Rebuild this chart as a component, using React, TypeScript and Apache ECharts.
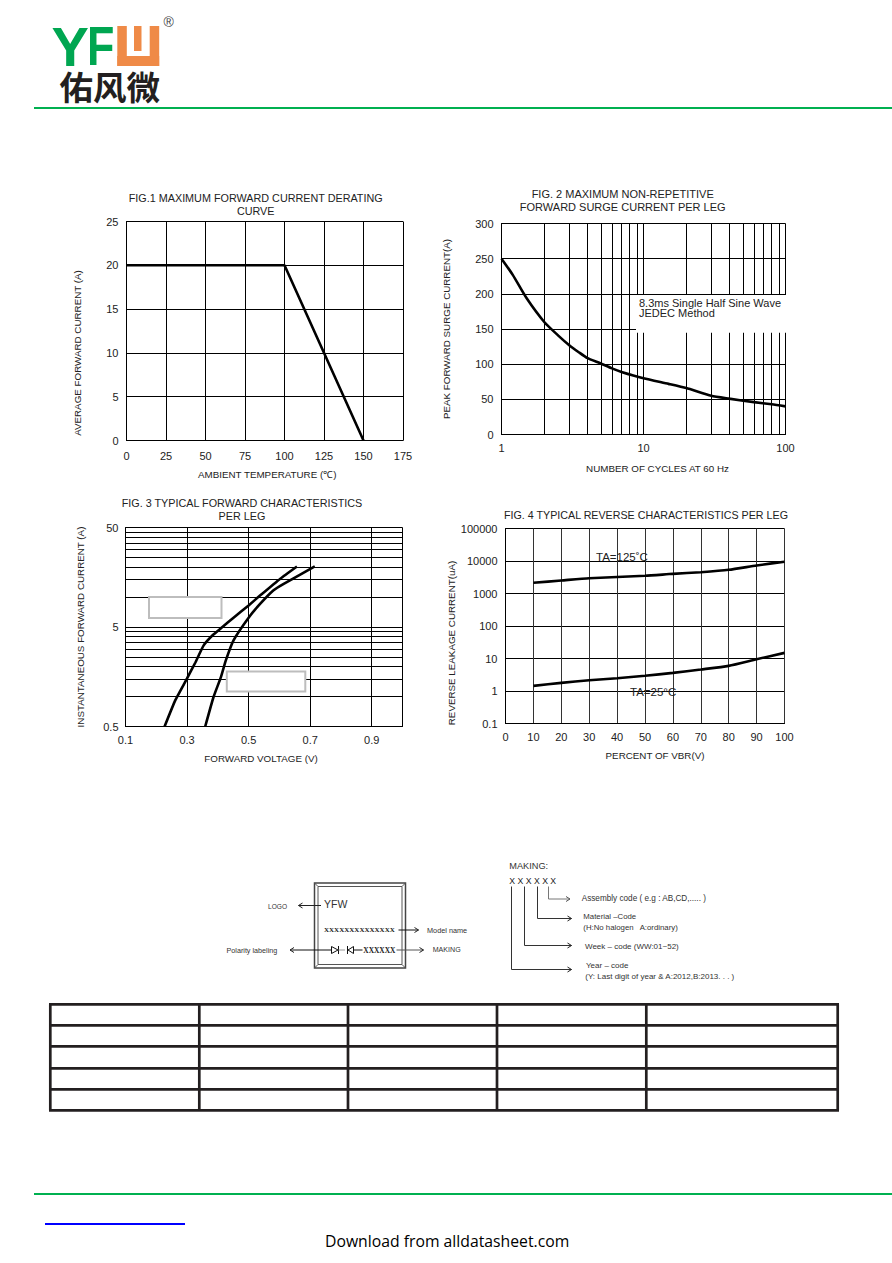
import React, { useEffect, useRef } from "react";
import * as echarts from "echarts";

// ---- data ----
const fig1Temp = [0, 100, 150];
const fig1Current = [20, 20, 0];

const fig2Cycles = [1, 1.2, 1.5, 2, 2.5, 3, 3.5, 4, 5, 6, 7, 10, 15, 20, 30, 40, 60, 80, 100];
const fig2Surge = [250, 227, 194, 160, 141, 127, 117, 109, 101, 94, 89, 80, 72, 66, 55, 51, 46, 43, 40];
const fig2MinorX = [2, 3, 4, 5, 6, 7, 8, 9, 20, 30, 40, 50, 60, 70, 80, 90];

const fig3VoltsA = [0.227, 0.262, 0.3, 0.327, 0.354, 0.383, 0.415, 0.451, 0.5, 0.538, 0.603, 0.657];
const fig3AmpsA = [0.5, 0.92, 1.52, 2.2, 3.27, 4.13, 5, 6.2, 8.24, 10.4, 15.3, 20.3];
const fig3VoltsB = [0.359, 0.386, 0.41, 0.426, 0.451, 0.5, 0.538, 0.581, 0.614, 0.715];
const fig3AmpsB = [0.5, 0.99, 1.57, 2.31, 3.67, 6.2, 8.57, 11.7, 13.6, 20.3];
const fig3GridY = [0.5, 1, 1.5, 2, 2.5, 3, 3.5, 4, 4.5, 5, 10, 15, 20, 25, 30, 35, 40, 45, 50];
const fig3LabelY = [0.5, 5, 50];
const fig3GridX = [0.3, 0.5, 0.7, 0.9, 1];

const fig4Percent = [10, 20, 30, 50, 60, 70, 80, 90, 100];
const fig4Hot = [2130, 2510, 2960, 3500, 4030, 4530, 5350, 7280, 9500];
const fig4PercentCold = [10, 20, 30, 40, 50, 60, 70, 80, 90, 100];
const fig4Cold = [1.44, 1.78, 2.15, 2.48, 2.93, 3.62, 4.59, 5.94, 9.5, 14.9];

const tableRows = [1004.3, 1025.3, 1046.3, 1068.3, 1089.3, 1110.3];
const tableCols = [50.3, 199.3, 348, 497, 646.3, 837.7];

const pair = (xs: number[], ys: number[]) => xs.map((x, i) => [x, ys[i]]);

const FONT = "Liberation Sans";
const TXT = "#222";
const GREEN = "#00a651";
const RULE = "#00b050";
const ORANGE = "#ef8a47";

const axisBase = {
  axisTick: { show: false },
  axisLine: { show: true, onZero: false, lineStyle: { color: "#000", width: 1 } },
  axisLabel: { color: TXT, fontFamily: FONT, fontSize: 11, margin: 8 },
  splitLine: { show: true, lineStyle: { color: "#000", width: 1 } },
  nameLocation: "middle" as const,
  nameTextStyle: { color: TXT, fontFamily: FONT, fontSize: 9.8 },
};

const curve = (i: number, data: number[][], smooth: number | boolean = 0.3, extra: object = {}) => ({
  type: "line",
  xAxisIndex: i,
  yAxisIndex: i,
  data,
  smooth,
  showSymbol: false,
  lineStyle: { color: "#000", width: 2.6 },
  ...extra,
});

const title = (text: string, left: number, top: number, fontSize = 10.8) => ({
  text,
  left,
  top,
  padding: 0,
  textAlign: "center",
  textStyle: { color: TXT, fontFamily: FONT, fontSize, fontWeight: "normal", lineHeight: 12.8 },
});

function seg(x1: number, y1: number, x2: number, y2: number, lineWidth = 1, stroke = "#222") {
  return { type: "line", z: 100, shape: { x1, y1, x2, y2 }, style: { stroke, lineWidth } };
}
function arrow(x: number, y: number, dir: number, stroke = "#222") {
  return {
    type: "polyline",
    z: 100,
    shape: { points: [[x - dir * 4, y - 2.5], [x, y], [x - dir * 4, y + 2.5]] },
    style: { stroke, lineWidth: 1, fill: "none" },
  };
}
function label(text: string, x: number, y: number, fontSize = 6.6, extra: object = {}) {
  return {
    type: "text",
    z: 101,
    x,
    y,
    style: {
      text,
      fontFamily: FONT,
      fontSize,
      fill: "#333",
      textVerticalAlign: "middle",
      verticalAlign: "middle",
      ...extra,
    },
  };
}
function box(x: number, y: number, width: number, height: number, stroke = "none", lineWidth = 0) {
  return { type: "rect", z: 100, shape: { x, y, width, height }, style: { fill: "#fff", stroke, lineWidth } };
}

function buildGraphics() {
  const g: any[] = [];
  // logo
  g.push({
    type: "text", z: 101, x: 51.5, y: 46,
    style: { text: "Y", fontFamily: FONT, fontWeight: "bold", fontSize: 56, fill: GREEN, verticalAlign: "middle" },
  });
  g.push({
    type: "text", z: 101, x: 87, y: 46, scaleX: 0.8,
    style: { text: "F", fontFamily: FONT, fontWeight: "bold", fontSize: 56, fill: GREEN, verticalAlign: "middle" },
  });
  const uRects = [
    [117.3, 26, 9.5, 40],
    [149.7, 26, 9.5, 40],
    [117.3, 56, 41.9, 10],
    [134, 26, 7.5, 25],
  ];
  uRects.forEach(([x, y, width, height]) =>
    g.push({ type: "rect", z: 100, shape: { x, y, width, height, r: 0 }, style: { fill: ORANGE } })
  );
  g.push(label("®", 163.5, 21.5, 14, { fill: "#444" }));
  g.push({
    type: "text", z: 101, x: 59.5, y: 85,
    style: {
      text: "佑风微", fontFamily: "Noto Sans CJK SC", fontWeight: "bold", fontSize: 33.5, fill: "#231f20",
      verticalAlign: "middle",
    },
  });
  // rules
  g.push(seg(34, 108, 892, 108, 2, RULE));
  g.push(seg(34, 1194, 892, 1194, 2, RULE));
  g.push(seg(45, 1224, 185, 1224, 2, "#0000ff"));
  g.push({
    type: "text", z: 101, x: 325, y: 1241,
    style: { text: "Download from alldatasheet.com", fontFamily: "Open Sans", fontSize: 15.75, fill: "#000", verticalAlign: "middle" },
  });

  // fig 2 note
  g.push(box(636, 295, 152, 37.7));
  g.push(label("8.3ms Single Half Sine Wave", 639, 302.7, 11, { fill: "#222" }));
  g.push(label("JEDEC Method", 639, 312.7, 11, { fill: "#222" }));

  // fig 3 blank boxes
  g.push(box(149, 597, 72.5, 21, "#bdbdbd", 2));
  g.push(box(226.8, 671.5, 78.5, 20, "#bdbdbd", 2));

  // fig 4 notes
  g.push(label("TA=125˚C", 596, 556.6, 11.5, { fill: "#222" }));
  g.push(label("TA=25°C", 630, 691.7, 11.5, { fill: "#222" }));

  // package drawing
  g.push({ type: "rect", z: 100, shape: { x: 314.5, y: 883, width: 91, height: 85 }, style: { fill: "none", stroke: "#444", lineWidth: 1.5 } });
  g.push({ type: "rect", z: 100, shape: { x: 318, y: 886.5, width: 84, height: 78 }, style: { fill: "none", stroke: "#555", lineWidth: 1 } });
  g.push(seg(314.5, 883, 318, 886.5, 1, "#555"), seg(405.5, 883, 402, 886.5, 1, "#555"));
  g.push(seg(314.5, 968, 318, 964.5, 1, "#555"), seg(405.5, 968, 402, 964.5, 1, "#555"));
  g.push(label("YFW", 324, 903.5, 10.5, { fill: "#333" }));
  g.push(label("XXXXXXXXXXXXXX", 324, 930, 7, { fontFamily: "Liberation Serif", fontWeight: "bold", fill: "#222" }));
  g.push(label("XXXXXX", 363.3, 950, 7.4, { fontFamily: "Liberation Serif", fontWeight: "bold", fill: "#222" }));
  g.push(label("LOGO", 268, 906.7, 6.6));
  g.push(seg(298.5, 905.5, 321, 905.5), arrow(298.5, 905.5, -1));
  g.push(label("Model name", 427, 930, 7.3));
  g.push(seg(398.5, 930, 418.5, 930, 1, "#111"), arrow(418.5, 930, 1));
  g.push(label("Polarity labeling", 226.5, 950, 7.2));
  g.push(seg(290, 950, 331, 950, 1, "#111"), arrow(290, 950, -1));
  g.push(label("MAKING", 432.7, 950, 7.1));
  g.push(seg(396.5, 950, 423.5, 950, 1, "#555"), arrow(423.5, 950, 1));
  g.push({ type: "polygon", z: 100, shape: { points: [[331.5, 946.5], [338, 950], [331.5, 953.5]] }, style: { fill: "#fff", stroke: "#111", lineWidth: 1 } });
  g.push(seg(338.5, 946, 338.5, 954, 1, "#111"), seg(338.5, 950, 345, 950, 1, "#999"));
  g.push(seg(347.5, 946, 347.5, 954, 1, "#111"));
  g.push({ type: "polygon", z: 100, shape: { points: [[353.5, 946.5], [348, 950], [353.5, 953.5]] }, style: { fill: "#fff", stroke: "#111", lineWidth: 1 } });
  g.push(seg(353.5, 950, 362.5, 950, 1, "#111"));

  // marking legend
  g.push(label("MAKING:", 509.3, 865.7, 9.2));
  g.push(label("X X X X X X", 509.3, 880.7, 8.7, { fill: "#222" }));
  g.push(seg(548.5, 886.5, 548.5, 899, 1, "#777"), seg(548.5, 899, 570, 899, 1, "#777"), arrow(570, 899, 1, "#555"));
  g.push(seg(537.5, 886.5, 537.5, 918.5, 1, "#333"), seg(537.5, 918.5, 571.5, 918.5, 1, "#333"), arrow(571.5, 918.5, 1));
  g.push(seg(524.5, 886.5, 524.5, 945.5, 1, "#333"), seg(524.5, 945.5, 571.5, 945.5, 1, "#333"), arrow(571.5, 945.5, 1));
  g.push(seg(511.5, 886.5, 511.5, 969.5, 1, "#333"), seg(511.5, 969.5, 571.5, 969.5, 1, "#333"), arrow(571.5, 969.5, 1));
  g.push(label("Assembly code ( e.g : AB,CD,..... )", 581.7, 898.3, 8.2));
  g.push(label("Material –Code", 583.3, 916, 7.8));
  g.push(label("(H:No halogen   A:ordinary)", 583.3, 927.3, 7.8));
  g.push(label("Week – code (WW:01~52)", 585, 946, 8));
  g.push(label("Year – code", 586, 965.7, 8));
  g.push(label("(Y: Last digit of year & A:2012,B:2013. . . )", 585.3, 976.7, 8));

  // table
  tableRows.forEach((y) => g.push(seg(tableCols[0] - 1.3, y, tableCols[5] + 1.3, y, 2.7, "#231f20")));
  tableCols.forEach((x) => g.push(seg(x, tableRows[0], x, tableRows[5], 2.7, "#231f20")));
  return g;
}

function buildOption() {
  const fig2Marks = {
    silent: true,
    symbol: "none",
    animation: false,
    label: { show: false },
    lineStyle: { color: "#000", width: 1, type: "solid" },
    data: fig2MinorX.map((v) => ({ xAxis: v })),
  };
  const fig3Marks = {
    silent: true,
    symbol: "none",
    animation: false,
    lineStyle: { color: "#000", width: 1, type: "solid" },
    data: [
      ...fig3GridY.map((v) => ({
        yAxis: v,
        label: {
          show: fig3LabelY.includes(v),
          position: "start",
          formatter: String(v),
          color: TXT,
          fontFamily: FONT,
          fontSize: 11,
          distance: 7,
        },
      })),
      ...fig3GridX.map((v) => ({ xAxis: v, label: { show: false } })),
    ],
  };
  return {
    animation: false,
    backgroundColor: "#fff",
    title: [
      title("FIG.1 MAXIMUM FORWARD CURRENT DERATING\nCURVE", 255.7, 192),
      title("FIG. 2 MAXIMUM NON-REPETITIVE\nFORWARD SURGE CURRENT PER LEG", 622.7, 188, 11),
      title("FIG. 3 TYPICAL FORWARD CHARACTERISTICS\nPER LEG", 242, 496.5, 10.8),
      title("FIG. 4 TYPICAL REVERSE CHARACTERISTICS PER LEG", 646, 509, 10.7),
    ],
    grid: [
      { left: 126.5, top: 221.5, width: 276.5, height: 219 },
      { left: 501.5, top: 223.5, width: 284, height: 211 },
      { left: 125.5, top: 527.5, width: 277, height: 199 },
      { left: 505.5, top: 528.5, width: 279, height: 195 },
    ],
    xAxis: [
      {
        ...axisBase, gridIndex: 0, type: "value", min: 0, max: 175, interval: 25,
        axisLabel: { ...axisBase.axisLabel, margin: 10 },
        name: "AMBIENT TEMPERATURE (℃)", nameGap: 29,
        nameTextStyle: { ...axisBase.nameTextStyle, padding: [0, 0, 0, 5] },
      },
      {
        ...axisBase, gridIndex: 1, type: "log", logBase: 10, min: 1, max: 100,
        name: "NUMBER OF CYCLES AT 60 Hz", nameGap: 29,
        nameTextStyle: { ...axisBase.nameTextStyle, padding: [0, 0, 0, 28] },
      },
      {
        ...axisBase, gridIndex: 2, type: "value", min: 0.1, max: 1, interval: 0.1,
        name: "FORWARD VOLTAGE (V)", nameGap: 27,
        splitLine: { show: false },
        axisLabel: {
          ...axisBase.axisLabel,
          formatter: (v: number) => (Math.round(v * 10) % 2 === 1 && v < 0.95 ? v.toFixed(1) : ""),
        },
        nameTextStyle: { ...axisBase.nameTextStyle, padding: [0, 6, 0, 0] },
      },
      {
        ...axisBase, gridIndex: 3, type: "value", min: 0, max: 100, interval: 10,
        name: "PERCENT OF VBR(V)", nameGap: 27,
        splitLine: { show: true, lineStyle: { color: "#333", width: 1 } },
        nameTextStyle: { ...axisBase.nameTextStyle, padding: [0, 0, 0, 20] },
      },
    ],
    yAxis: [
      {
        ...axisBase, gridIndex: 0, type: "value", min: 0, max: 25, interval: 5,
        name: "AVERAGE FORWARD CURRENT (A)", nameGap: 44,
        nameTextStyle: { ...axisBase.nameTextStyle, padding: [0, 44, 0, 0] },
      },
      {
        ...axisBase, gridIndex: 1, type: "value", min: 0, max: 300, interval: 50,
        name: "PEAK FORWARD SURGE CURRENT(A)", nameGap: 50,
      },
      {
        ...axisBase, gridIndex: 2, type: "log", logBase: 10, min: 0.5, max: 50,
        splitLine: { show: false }, axisLabel: { show: false },
        name: "INSTANTANEOUS FORWARD CURRENT (A)", nameGap: 40,
      },
      {
        ...axisBase, gridIndex: 3, type: "log", logBase: 10, min: 0.1, max: 100000,
        axisLabel: { ...axisBase.axisLabel, formatter: (v: number) => String(v) },
        name: "REVERSE LEAKAGE CURRENT(uA)", nameGap: 38,
        nameTextStyle: { ...axisBase.nameTextStyle, padding: [0, 34, 0, 0] },
      },
    ],
    series: [
      curve(0, pair(fig1Temp, fig1Current), false),
      curve(1, pair(fig2Cycles, fig2Surge), 0.2, { markLine: fig2Marks }),
      curve(2, pair(fig3VoltsA, fig3AmpsA), 0.15, { markLine: fig3Marks }),
      curve(2, pair(fig3VoltsB, fig3AmpsB), 0.15),
      curve(3, pair(fig4Percent, fig4Hot), 0.2),
      curve(3, pair(fig4PercentCold, fig4Cold), 0.2),
    ],
    graphic: { elements: buildGraphics() },
  };
}

export default function App() {
  const ref = useRef<HTMLDivElement>(null);
  useEffect(() => {
    document.body.style.margin = "0";
    const chart = echarts.init(ref.current!, undefined, { renderer: "svg" });
    chart.setOption(buildOption() as any);
    return () => chart.dispose();
  }, []);
  return <div ref={ref} style={{ position: "absolute", left: 0, top: 0, width: 892, height: 1263 }} />;
}
